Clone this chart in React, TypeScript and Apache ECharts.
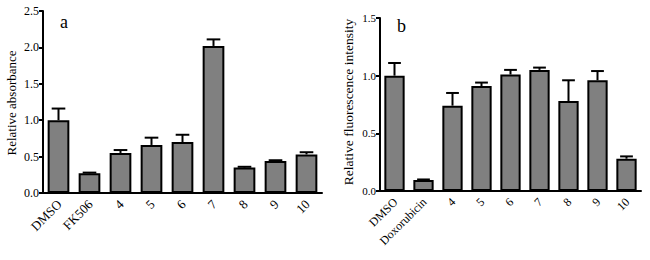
import React, { useEffect, useRef } from "react";
import * as echarts from "echarts";

const catsA = ["DMSO", "FK506", "4", "5", "6", "7", "8", "9", "10"];
const valsA = [1.0, 0.27, 0.55, 0.66, 0.7, 2.02, 0.35, 0.44, 0.53];
const errA = [1.16, 0.28, 0.59, 0.76, 0.8, 2.11, 0.36, 0.45, 0.56];

const catsB = ["DMSO", "Doxorubicin", "4", "5", "6", "7", "8", "9", "10"];
const valsB = [1.0, 0.096, 0.74, 0.91, 1.01, 1.05, 0.78, 0.96, 0.28];
const errB = [1.11, 0.1, 0.85, 0.94, 1.05, 1.07, 0.96, 1.04, 0.3];

const FONT = "Liberation Serif";

function errSeries(xi: number, vals: number[], errs: number[]) {
  return {
    type: "custom",
    xAxisIndex: xi,
    yAxisIndex: xi,
    z: 5,
    data: vals.map((v, i) => [i, v, errs[i]]),
    renderItem: (params: any, api: any) => {
      const base = api.coord([api.value(0), api.value(1)]);
      const top = api.coord([api.value(0), api.value(2)]);
      const half = api.size([1, 0])[0] * 0.22;
      const style = { stroke: "#000", lineWidth: 2 };
      return {
        type: "group",
        children: [
          { type: "line", shape: { x1: base[0], y1: base[1], x2: top[0], y2: top[1] }, style },
          { type: "line", shape: { x1: top[0] - half, y1: top[1], x2: top[0] + half, y2: top[1] }, style },
        ],
      };
    },
  };
}

export default function App() {
  const ref = useRef<HTMLDivElement>(null);
  useEffect(() => {
    if (!ref.current) return;
    const chart = echarts.init(ref.current, null, { renderer: "svg" });
    const mkLine = () => ({ lineStyle: { color: "#000", width: 2 } });
    const mkTick = () => ({ length: 4, lineStyle: { color: "#000", width: 2 } });
    chart.setOption({
      animation: false,
      grid: [
        { left: 43, top: 11, width: 279, height: 182 },
        { left: 380, top: 18, width: 261, height: 173 },
      ],
      xAxis: [
        {
          type: "category", gridIndex: 0, data: catsA,
          axisLine: mkLine(), axisTick: { ...mkTick(), alignWithLabel: true },
          axisLabel: { show: false },
        },
        {
          type: "category", gridIndex: 1, data: catsB,
          axisLine: mkLine(), axisTick: { ...mkTick(), alignWithLabel: true },
          axisLabel: { show: false },
        },
      ],
      yAxis: [
        {
          type: "value", gridIndex: 0, min: 0, max: 2.5, interval: 0.5,
          axisLine: { show: true, ...mkLine() }, axisTick: { show: true, ...mkTick() },
          splitLine: { show: false },
          axisLabel: { color: "#000", fontSize: 12, fontFamily: FONT, margin: 4, formatter: (v: number) => v.toFixed(1) },
        },
        {
          type: "value", gridIndex: 1, min: 0, max: 1.5, interval: 0.5,
          axisLine: { show: true, ...mkLine() }, axisTick: { show: true, ...mkTick() },
          splitLine: { show: false },
          axisLabel: { color: "#000", fontSize: 11, fontFamily: FONT, margin: 4, formatter: (v: number) => v.toFixed(1) },
        },
      ],
      series: [
        {
          type: "bar", xAxisIndex: 0, yAxisIndex: 0, data: valsA, barWidth: "70%",
          itemStyle: { color: "#808080", borderColor: "#000", borderWidth: 2 },
        },
        errSeries(0, valsA, errA),
        {
          type: "bar", xAxisIndex: 1, yAxisIndex: 1, data: valsB, barWidth: "70%",
          itemStyle: { color: "#808080", borderColor: "#000", borderWidth: 2 },
        },
        errSeries(1, valsB, errB),
      ],
    });

    const catLabels = (gridIndex: number, cats: string[], size: number) =>
      cats.map((c, i) => {
        const p = chart.convertToPixel({ gridIndex }, [i, 0]) as number[];
        return {
          type: "text",
          x: p[0] + 1,
          y: p[1] + 9,
          rotation: Math.PI / 4,
          style: { text: c, fontSize: size, fontFamily: FONT, fill: "#000", align: "right", verticalAlign: "middle" },
        };
      });

    chart.setOption({
      graphic: [
        { type: "text", left: 60, top: 13, style: { text: "a", fontSize: 18, fontFamily: FONT, fill: "#000" } },
        { type: "text", left: 397, top: 17, style: { text: "b", fontSize: 18, fontFamily: FONT, fill: "#000" } },
        { type: "text", x: 11, y: 103, rotation: Math.PI / 2, style: { text: "Relative absorbance", fontSize: 13, fontFamily: FONT, fill: "#000", align: "center", verticalAlign: "middle" } },
        { type: "text", x: 348, y: 102, rotation: Math.PI / 2, style: { text: "Relative fluorescence intensity", fontSize: 13.5, fontFamily: FONT, fill: "#000", align: "center", verticalAlign: "middle" } },
        ...catLabels(0, catsA, 13),
        ...catLabels(1, catsB, 12),
      ],
    });
    return () => chart.dispose();
  }, []);
  return <div ref={ref} style={{ width: 650, height: 260, position: "absolute", left: 0, top: 0 }} />;
}
